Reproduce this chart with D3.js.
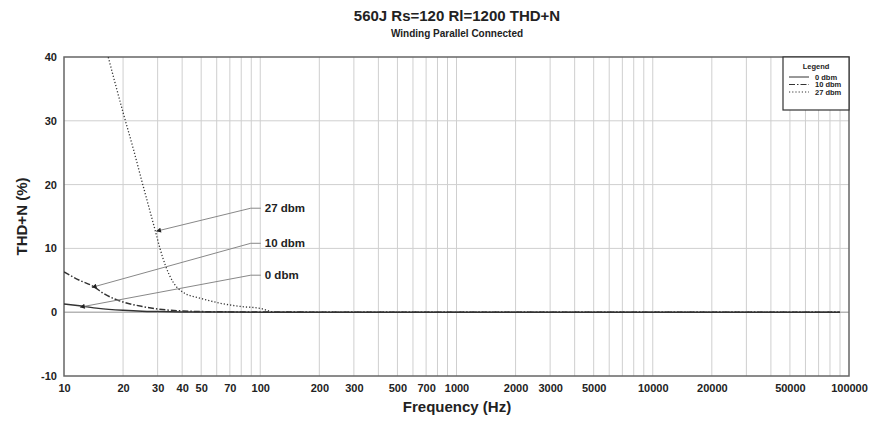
<!DOCTYPE html>
<html>
<head>
<meta charset="utf-8">
<title>560J THD+N</title>
<script src="https://d3js.org/d3.v7.min.js"></script>
<style>
  body { margin: 0; background: #fff; }
  text { font-family: "Liberation Sans", Arial, sans-serif; font-weight: bold; fill: #222; }
</style>
</head>
<body>
<div id="chart"></div>
<script>
// data
const freq0 = [10, 12, 15, 20, 25, 30, 40, 50, 70, 100, 1000, 10000, 90000];
const thd0  = [1.3, 1.0, 0.6, 0.3, 0.15, 0.1, 0.05, 0.03, 0.02, 0.01, 0, 0, 0];

const freq10 = [10, 12, 14, 16, 18, 20, 25, 30, 40, 50, 70, 100, 1000, 90000];
const thd10  = [6.3, 5.0, 4.1, 2.9, 2.1, 1.6, 0.9, 0.5, 0.2, 0.1, 0.05, 0.02, 0, 0];

const freq27 = [15, 16.8, 20, 22.6, 25, 29.1, 30.9, 32.8, 36, 40.5, 49.4, 62.6, 79.2, 100, 119, 1000, 90000];
const thd27  = [45.8, 40, 31.3, 25.5, 20.4, 12.9, 9.9, 7.4, 4.7, 3.1, 2.2, 1.4, 0.9, 0.6, 0.0, 0, 0];

const seriesNames = ["0 dbm", "10 dbm", "27 dbm"];
const xTickLabels = [10, 20, 30, 40, 50, 70, 100, 200, 300, 500, 700, 1000, 2000, 3000, 5000, 10000, 20000, 50000, 100000];
const yTicks = [-10, 0, 10, 20, 30, 40];

// callouts: label position (freq, thd) and arrow target (freq, thd)
const calloutLabelAt = [[103, 5.8], [103, 10.8], [103, 16.3]];
const calloutTarget  = [[12.1, 0.8], [13.9, 3.9], [29.6, 12.7]];

const W = 875, H = 421;
const margin = {top: 57, right: 26, bottom: 45, left: 64};

const svg = d3.select("#chart").append("svg")
    .attr("width", W).attr("height", H);

const x = d3.scaleLog().domain([10, 100000]).range([margin.left, W - margin.right]);
const y = d3.scaleLinear().domain([-10, 40]).range([H - margin.bottom, margin.top]);

// grid
const gridX = [];
for (let d = 10; d < 100000; d *= 10)
    for (let k = 1; k <= 9; k++) gridX.push(d * k);

svg.append("g").selectAll("line").data(gridX.filter(v => v > 10)).join("line")
    .attr("x1", d => x(d)).attr("x2", d => x(d))
    .attr("y1", y(40)).attr("y2", y(-10))
    .attr("stroke", "#cfcfcf").attr("stroke-width", 1);

svg.append("g").selectAll("line").data(yTicks.slice(1, -1)).join("line")
    .attr("x1", x(10)).attr("x2", x(100000))
    .attr("y1", d => y(d)).attr("y2", d => y(d))
    .attr("stroke", d => d === 0 ? "#b5b5b5" : "#cfcfcf").attr("stroke-width", d => d === 0 ? 1.5 : 1);

// axes
const xAxis = d3.axisBottom(x).tickValues(xTickLabels).tickSize(0).tickPadding(8)
    .tickFormat(d => String(d));
svg.append("g").attr("transform", "translate(0," + y(-10) + ")").call(xAxis)
    .call(g => g.select(".domain").remove())
    .selectAll("text").style("font-size", "11px").attr("fill", "#222");

const yAxis = d3.axisLeft(y).tickValues(yTicks).tickSize(0).tickPadding(7)
    .tickFormat(d => String(d));
svg.append("g").attr("transform", "translate(" + x(10) + ",0)").call(yAxis)
    .call(g => g.select(".domain").remove())
    .selectAll("text").style("font-size", "11px").attr("fill", "#222");

// frame
svg.append("rect")
    .attr("x", x(10)).attr("y", y(40))
    .attr("width", x(100000) - x(10)).attr("height", y(-10) - y(40))
    .attr("fill", "none").attr("stroke", "#666").attr("stroke-width", 1.5);

// clip for the curves
svg.append("clipPath").attr("id", "plot").append("rect")
    .attr("x", x(10)).attr("y", y(40))
    .attr("width", x(100000) - x(10)).attr("height", y(-10) - y(40));

const line = d3.line().x(d => x(d[0])).y(d => y(d[1])).curve(d3.curveMonotoneX);

const series = [
    {f: freq0, v: thd0, dash: null, w: 1.5},
    {f: freq10, v: thd10, dash: "6,2,1.5,2", w: 1.5},
    {f: freq27, v: thd27, dash: "1.2,2", w: 1.3}
];

svg.append("g").attr("clip-path", "url(#plot)").selectAll("path").data(series).join("path")
    .attr("d", s => line(s.f.map((f, i) => [f, s.v[i]])))
    .attr("fill", "none").attr("stroke", "#333")
    .attr("stroke-width", s => s.w)
    .attr("stroke-dasharray", s => s.dash);

// callouts
svg.append("defs").append("marker")
    .attr("id", "arr").attr("viewBox", "0 0 10 10")
    .attr("refX", 9).attr("refY", 5)
    .attr("markerWidth", 7).attr("markerHeight", 5).attr("orient", "auto")
    .append("path").attr("d", "M0,0 L10,5 L0,10 z").attr("fill", "#222");

const co = svg.append("g");
seriesNames.forEach((name, i) => {
    const lab = calloutLabelAt[i], tgt = calloutTarget[i];
    const lx = x(lab[0]), ly = y(lab[1]);
    co.append("polyline")
        .attr("points", [[lx - 2, ly], [lx - 12, ly], [x(tgt[0]), y(tgt[1])]].map(p => p.join(",")).join(" "))
        .attr("fill", "none").attr("stroke", "#888").attr("stroke-width", 1)
        .attr("marker-end", "url(#arr)");
    co.append("text").attr("x", lx + 2).attr("y", ly + 4)
        .style("font-size", "11.5px").text(name);
});

// legend
const lg = svg.append("g").attr("transform", "translate(783,57)");
lg.append("rect").attr("width", 66).attr("height", 53)
    .attr("fill", "#fff").attr("stroke", "#333").attr("stroke-width", 1.2);
lg.append("text").attr("x", 33).attr("y", 12).attr("text-anchor", "middle")
    .style("font-size", "7.5px").text("Legend");
series.forEach((s, i) => {
    const yy = 20 + i * 7.5;
    lg.append("line").attr("x1", 6).attr("x2", 26).attr("y1", yy).attr("y2", yy)
        .attr("stroke", "#333").attr("stroke-width", 1).attr("stroke-dasharray", s.dash);
    lg.append("text").attr("x", 32).attr("y", yy + 2.5)
        .style("font-size", "7.5px").text(seriesNames[i]);
});

// titles
svg.append("text").attr("x", 457).attr("y", 21).attr("text-anchor", "middle")
    .style("font-size", "15px").text("560J Rs=120 Rl=1200 THD+N");
svg.append("text").attr("x", 457).attr("y", 37).attr("text-anchor", "middle")
    .style("font-size", "10px").text("Winding Parallel Connected");

svg.append("text").attr("x", 457).attr("y", 412).attr("text-anchor", "middle")
    .style("font-size", "15px").text("Frequency (Hz)");
svg.append("text")
    .attr("transform", "translate(27," + ((y(40) + y(-10)) / 2) + ") rotate(-90)")
    .attr("text-anchor", "middle")
    .style("font-size", "15px").text("THD+N (%)");
</script>
</body>
</html>
